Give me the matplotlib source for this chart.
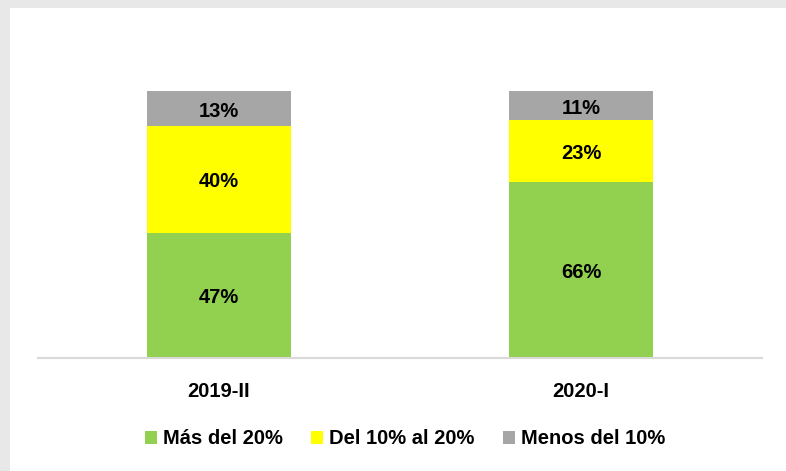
import matplotlib.pyplot as plt
from matplotlib.patches import Rectangle
from matplotlib import font_manager

periods = ["2019-II", "2020-I"]
series_names = ["Más del 20%", "Del 10% al 20%", "Menos del 10%"]
mas_20 = [47, 66]
del_10_20 = [40, 23]
menos_10 = [13, 11]
colors = ["#92d050", "#ffff00", "#a6a6a6"]

names = {f.name for f in font_manager.fontManager.ttflist}
family = ["Liberation Sans Narrow"] if "Liberation Sans Narrow" in names else ["Liberation Sans"]
plt.rcParams["font.family"] = family + ["DejaVu Sans"]
fs = 16 if family[0] == "Liberation Sans Narrow" else 14.5

W, H = 786, 471
fig = plt.figure(figsize=(W / 100, H / 100), dpi=100)
fig.patch.set_facecolor("#e8e8e8")
fig.patches.append(Rectangle((10 / W, 0), 1, 1 - 8 / H, transform=fig.transFigure,
                             facecolor="white", edgecolor="none", zorder=-5))

# axes box in pixels: x 38..762, baseline y 358, 100% at y 91
left, right, bottom = 38, 762, 358
px_per_unit = (358 - 91) / 100
top_units = 120
ax_h = top_units * px_per_unit
ax = fig.add_axes([left / W, (H - bottom) / H, (right - left) / W, ax_h / H])
ax.set_facecolor("none")

x = list(range(len(periods)))
stack = [mas_20, del_10_20, menos_10]
base = [0] * len(periods)
for vals, name, c in zip(stack, series_names, colors):
    ax.bar(x, vals, 0.4, bottom=base, color=c, label=name, zorder=2)
    for xi, v, b in zip(x, vals, base):
        ax.text(xi, b + v / 2 - 1, f"{v}%", ha="center", va="center",
                fontsize=fs, fontweight="bold", color="black", zorder=3)
    base = [b + v for b, v in zip(base, vals)]

ax.set_xlim(-0.5, 1.5)
ax.set_ylim(0, top_units)
ax.set_yticks([])
ax.set_xticks(x)
ax.set_xticklabels(periods, fontsize=fs, fontweight="bold")
ax.tick_params(axis="x", length=0, pad=17)
for s in ["left", "right", "top"]:
    ax.spines[s].set_visible(False)
ax.spines["bottom"].set_color("#d9d9d9")
ax.spines["bottom"].set_linewidth(1.5)

handles, labels = ax.get_legend_handles_labels()
fig.legend(handles, labels, loc="center", bbox_to_anchor=(405 / W, 1 - 439 / H),
           ncol=3, frameon=False, prop={"size": fs, "weight": "bold"},
           handlelength=0.6, handleheight=0.6, handletextpad=0.3,
           columnspacing=1.4)

fig.savefig("out.png", dpi=100)
